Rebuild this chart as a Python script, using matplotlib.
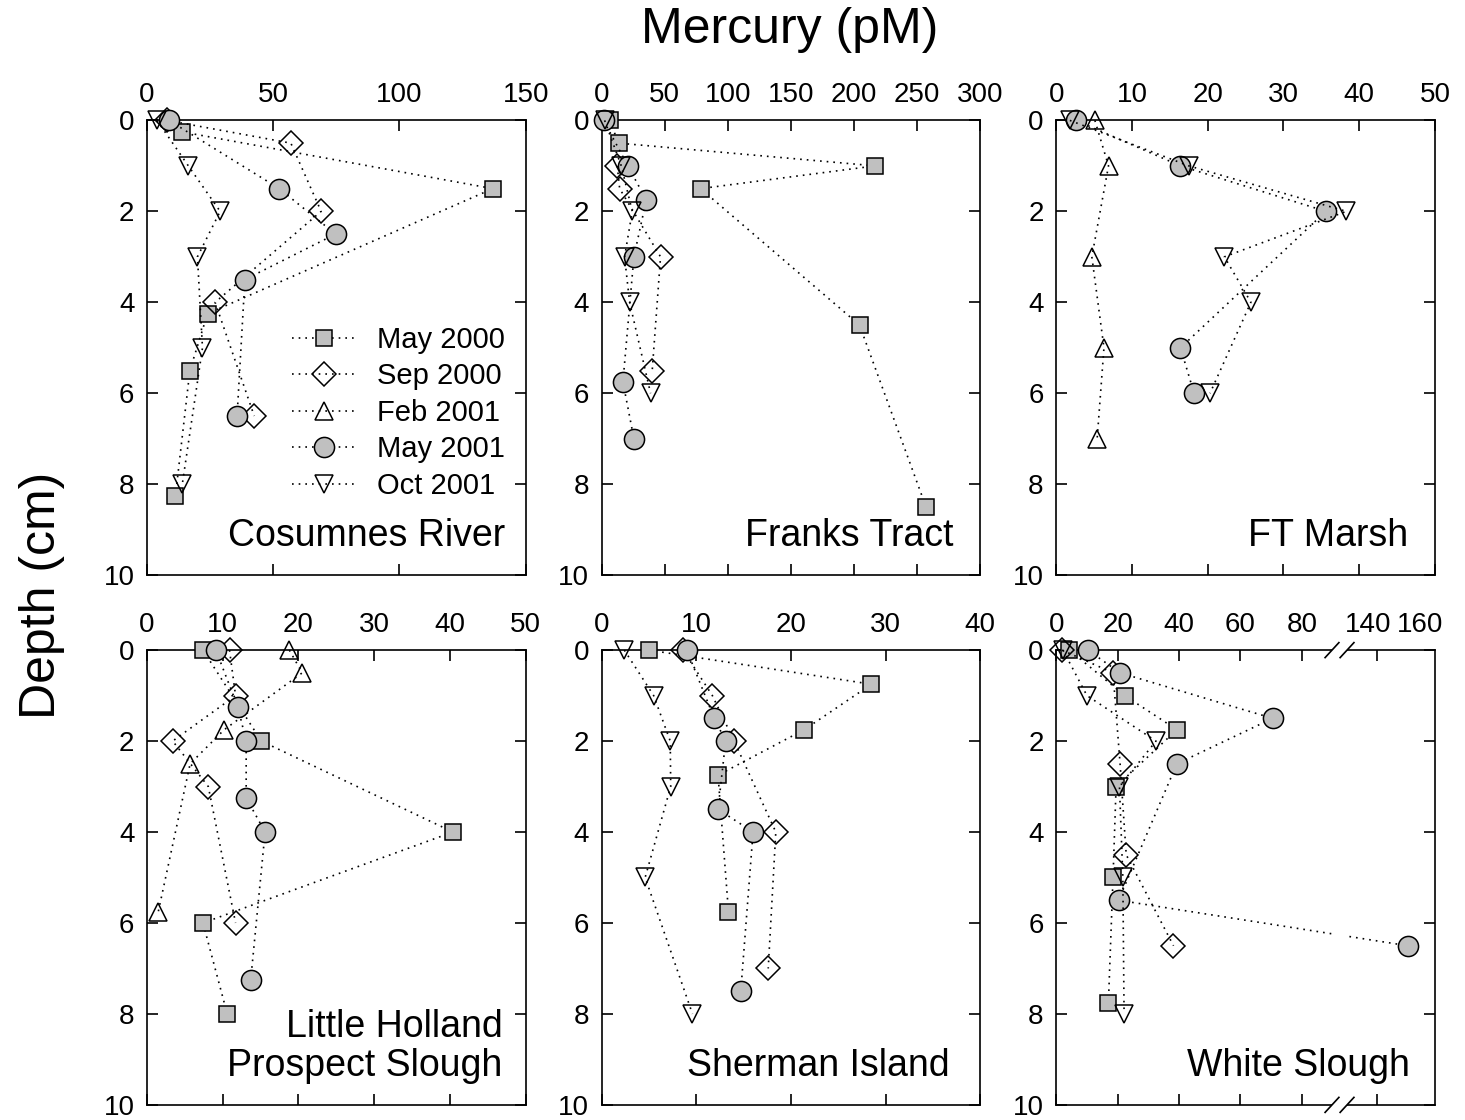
import numpy as np
import matplotlib
matplotlib.use('Agg')
import matplotlib.pyplot as plt
from matplotlib.lines import Line2D
from matplotlib.patches import Rectangle

plt.rcParams['font.family'] = ['Liberation Sans', 'DejaVu Sans']

series = ['May 2000', 'Sep 2000', 'Feb 2001', 'May 2001', 'Oct 2001']
markers = ['s', 'D', '^', 'o', 'v']
fills = ['#c0c0c0', 'none', 'none', '#c0c0c0', 'none']
sizes = [12, 12, 13.5, 14.5, 13.5]

# each entry: (depth cm, mercury pM)
cosumnes = {
    'May 2000': ([0.25, 1.5, 4.25, 5.5, 8.25], [13.7, 137, 24, 17, 11.3]),
    'Sep 2000': ([0, 0.5, 2, 4, 6.5], [8, 57, 69, 27, 42.5]),
    'May 2001': ([0, 1.5, 2.5, 3.5, 6.5], [8.7, 52.4, 74.7, 38.8, 35.7]),
    'Oct 2001': ([0, 1, 2, 3, 5, 8], [4, 16.4, 29, 20, 22, 14]),
}
franks = {
    'May 2000': ([0, 0.5, 1, 1.5, 4.5, 8.5], [6.3, 13.5, 216.7, 78.4, 204.3, 257]),
    'Sep 2000': ([1, 1.5, 3, 5.5], [12.4, 14.3, 46.7, 40.1]),
    'May 2001': ([0, 1, 1.75, 3, 5.75, 7], [1.6, 20.8, 35.4, 25.6, 16.9, 25.6]),
    'Oct 2001': ([0, 1, 2, 3, 4, 6], [2.4, 15.6, 24.3, 18.2, 22.2, 38.8]),
}
ft_marsh = {
    'Feb 2001': ([0, 1, 3, 5, 7], [5.1, 6.9, 4.7, 6.3, 5.4]),
    'May 2001': ([0, 1, 2, 5, 6], [2.6, 16.4, 35.6, 16.4, 18.2]),
    'Oct 2001': ([0, 1, 2, 3, 4, 6], [1.8, 17.5, 38.3, 22.2, 25.7, 20.3]),
}
little_holland = {
    'May 2000': ([0, 2, 4, 6, 8], [7.4, 15.1, 40.4, 7.4, 10.6]),
    'Sep 2000': ([0, 1, 2, 3, 6], [10.9, 11.7, 3.4, 8.1, 11.7]),
    'Feb 2001': ([0, 0.5, 1.75, 2.5, 5.75], [18.8, 20.5, 10.2, 5.7, 1.5]),
    'May 2001': ([0, 1.25, 2, 3.25, 4, 7.25], [9.1, 12, 13.1, 13.1, 15.6, 13.7]),
}
sherman = {
    'May 2000': ([0, 0.75, 1.75, 2.75, 5.75], [5, 28.5, 21.4, 12.3, 13.4]),
    'Sep 2000': ([0, 1, 2, 4, 7], [8.6, 11.7, 14.0, 18.4, 17.6]),
    'May 2001': ([0, 1.5, 2, 3.5, 4, 7.5], [9, 11.9, 13.1, 12.3, 16, 14.7]),
    'Oct 2001': ([0, 1, 2, 3, 5, 8], [2.4, 5.5, 7.25, 7.3, 4.6, 9.6]),
}
white_slough = {
    'May 2000': ([0, 1, 1.75, 3, 5, 7.75], [4.3, 22.3, 39.3, 19.5, 18.5, 17]),
    'Sep 2000': ([0, 0.5, 2.5, 4.5, 6.5], [1.9, 18.5, 20.8, 22.8, 38.2]),
    'May 2001': ([0, 0.5, 1.5, 2.5, 5.5, 6.5], [10.3, 20.8, 70.5, 39.3, 20.3, 150]),
    'Oct 2001': ([0, 1, 2, 3, 5, 8], [2.2, 10, 32.5, 20.6, 21.7, 22.1]),
}

sites = [cosumnes, franks, ft_marsh, little_holland, sherman, white_slough]
names = ['Cosumnes River', 'Franks Tract', 'FT Marsh',
         'Little Holland\nProspect Slough', 'Sherman Island', 'White Slough']
xmax = [150, 300, 50, 50, 40, None]
xstep = [50, 50, 10, 10, 10, 20]
name_x = [0.945, 0.93, 0.929, 0.939, 0.918, 0.934]

BREAK_LO, BREAK_SHIFT = 100, 35.5


def brk(x):
    # broken axis for White Slough: values above 100 are shifted left
    x = np.asarray(x, dtype=float)
    return np.where(x > BREAK_LO, x - BREAK_SHIFT, x)


dots = (0, (1, 3))

fig, axes = plt.subplots(2, 3, figsize=(14.65, 11.2), dpi=100)
plt.subplots_adjust(left=0.1003, right=0.9795, top=0.8925, bottom=0.0135,
                    wspace=0.2005, hspace=0.1648)

for i, ax in enumerate(axes.flat):
    site = sites[i]
    for s, m, fc, ms in zip(series, markers, fills, sizes):
        if s not in site:
            continue
        d, hg = site[s]
        xv = brk(hg) if xmax[i] is None else hg
        ax.plot(xv, d, linestyle=dots, color='k', lw=1.2, marker=m, ms=ms,
                mfc=fc, mec='k', mew=1.1, clip_on=False, zorder=3)

    ax.set_ylim(10, 0)
    ax.set_yticks(range(0, 11, 2))
    for sp in ax.spines.values():
        sp.set_linewidth(1.2)
    ax.tick_params(direction='in', length=8, width=1.2, top=True, right=True,
                   labeltop=True, labelbottom=False, labelsize=20, pad=9)

    if xmax[i] is not None:
        ax.set_xlim(0, xmax[i])
        ax.set_xticks(np.arange(0, xmax[i] + 1, xstep[i]))
    else:
        ax.set_xlim(0, 123.4)
        pos = [0, 20, 40, 60, 80, float(brk(137)), float(brk(154))]
        ax.set_xticks(pos)
        ax.set_xticklabels(['0', '20', '40', '60', '80', '140', '160'])
        ax.set_xticks([float(brk(140))], minor=True)
        ax.tick_params(axis='x', which='minor', direction='in', length=8,
                       width=1.2, top=True, bottom=True)
        for t in ax.xaxis.get_major_ticks()[5:]:
            t.tick1line.set_visible(False)
            t.tick2line.set_visible(False)
        # gap and break marks
        ax.add_patch(Rectangle((89.8, -0.4), 5.1, 10.8, facecolor='white',
                               edgecolor='none', zorder=5, clip_on=False))
        for y0 in (0, 10):
            for x0 in (87.6, 92.5):
                ax.plot([x0, x0 + 4.5], [y0 + 0.165, y0 - 0.165], color='k',
                        lw=1.2, clip_on=False, zorder=6)

    ax.text(name_x[i], 0.064, names[i], transform=ax.transAxes, ha='right',
            va='baseline', fontsize=27, linespacing=1.1, zorder=7)

handles = [Line2D([], [], linestyle=dots, color='k', lw=1.2, marker=m, ms=ms,
                  mfc=fc, mec='k', mew=1.1)
           for m, fc, ms in zip(markers, fills, sizes)]
axes[0, 0].legend(handles, series, loc='upper right', bbox_to_anchor=(0.945, 0.548),
                  frameon=False, fontsize=21, handlelength=2.2, handletextpad=0.7,
                  labelspacing=0.29, borderpad=0, borderaxespad=0)

fig.text(0.539, 0.973, 'Mercury (pM)', ha='center', va='center', fontsize=36)
fig.text(0.0287, 0.468, 'Depth (cm)', ha='center', va='center', fontsize=36,
         rotation=90)

plt.savefig('out.png', dpi=100)
